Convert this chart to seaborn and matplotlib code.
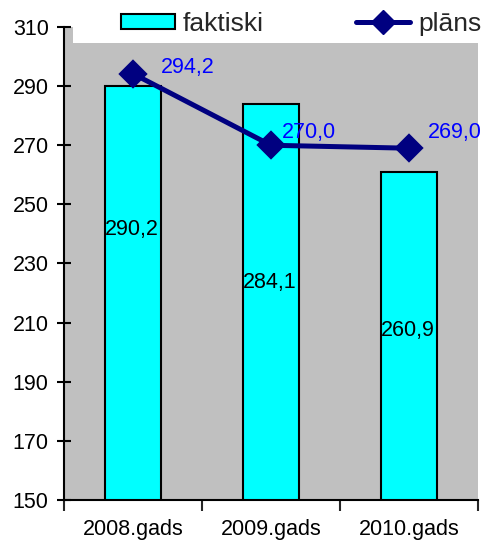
import matplotlib

matplotlib.use("Agg")
import matplotlib.pyplot as plt
import pandas as pd
import seaborn as sns
from matplotlib.lines import Line2D
from matplotlib.patches import Patch, Rectangle

years = ["2008.gads", "2009.gads", "2010.gads"]
actual = [290.2, 284.1, 260.9]
plan = [294.2, 270.0, 269.0]
actual_labels = ["290,2", "284,1", "260,9"]
plan_labels = ["294,2", "270,0", "269,0"]
# label placement (value units / category offsets)
actual_label_y = [241.5, 223.5, 207.5]
plan_label_y = [296.3, 274.3, 274.3]
plan_label_dx = [0.2, 0.08, 0.14]
yticks = list(range(150, 311, 20))

df = pd.DataFrame({"year": years, "faktiski": actual, "plans": plan})

sns.set_theme(style="white")
plt.rcParams["font.family"] = ["Liberation Sans", "DejaVu Sans"]
FS = 15.5
LEG_FS = 19

fig = plt.figure(figsize=(4.83, 5.41), dpi=100)
ax = fig.add_axes([64 / 483, 41 / 541, 414 / 483, 473 / 541])
ax.set_facecolor("#C0C0C0")

sns.barplot(data=df, x="year", y="faktiski", color="#00FFFF", edgecolor="black",
            linewidth=1.5, width=0.41, saturation=1, ax=ax, zorder=2)
sns.pointplot(data=df, x="year", y="plans", color="#000080", markers="D",
              markersize=12.5, linewidth=3.6, ax=ax, zorder=3)

for i, (lab, ly) in enumerate(zip(actual_labels, actual_label_y)):
    ax.text(i - 0.205, ly, lab, color="black", fontsize=FS, va="center", ha="left", zorder=4)
for i, (lab, ly, dx) in enumerate(zip(plan_labels, plan_label_y, plan_label_dx)):
    ax.text(i + dx, ly, lab, color="#0000FF", fontsize=FS, va="center", ha="left", zorder=4)

ax.set_ylim(150, 310)
ax.set_xlim(-0.5, 2.5)
ax.set_yticks(yticks)
ax.set_xlabel("")
ax.set_ylabel("")
ax.tick_params(axis="y", direction="inout", length=10, width=1.5, labelsize=FS,
               left=True, pad=6, colors="black")
ax.tick_params(axis="x", which="major", length=0, labelsize=FS, pad=14, colors="black")
ax.set_xticks([-0.5, 0.5, 1.5, 2.5], minor=True)
ax.tick_params(axis="x", which="minor", direction="out", length=8, width=1.5, bottom=True)
for side in ["top", "right"]:
    ax.spines[side].set_visible(False)
for side in ["left", "bottom"]:
    ax.spines[side].set_color("black")
    ax.spines[side].set_linewidth(1.5)

# white legend area covering the top of the plot
fig.patches.append(Rectangle((73 / 483, 1 - 43 / 541), 1 - 73 / 483, 43 / 541,
                             transform=fig.transFigure, facecolor="white",
                             edgecolor="none", zorder=5))

handles = [
    Patch(facecolor="#00FFFF", edgecolor="black", linewidth=1.5, label="faktiski"),
    Line2D([], [], color="#000080", linewidth=3.6, marker="D", markersize=12, label="plāns"),
]
leg = fig.legend(handles=handles, loc="upper left", bbox_to_anchor=(121 / 483, 1 - 12 / 541),
                 ncol=2, fontsize=LEG_FS, frameon=False, handlelength=2.05, handleheight=0.53,
                 handletextpad=0.3, columnspacing=3.5, borderpad=0.0, borderaxespad=0.0)
leg.set_zorder(6)

fig.savefig("out.png", dpi=100)
